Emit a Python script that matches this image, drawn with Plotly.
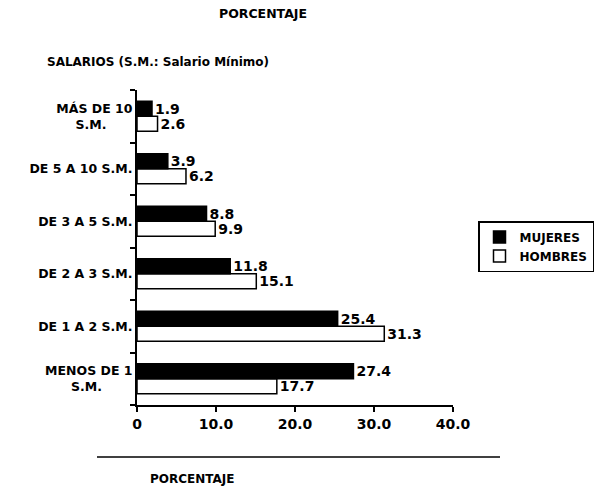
import plotly.graph_objects as go

NB = "\u00a0"

# Wage brackets, bottom to top (second line padded so it sits centred)
categorias = [
    "MENOS DE 1<br>S.M." + NB * 7,
    "DE 1 A 2 S.M.",
    "DE 2 A 3 S.M.",
    "DE 3 A 5 S.M.",
    "DE 5 A 10 S.M.",
    "MÁS DE 10<br>S.M." + NB * 6,
]
mujeres = [27.4, 25.4, 11.8, 8.8, 3.9, 1.9]
hombres = [17.7, 31.3, 15.1, 9.9, 6.2, 2.6]

x_ticks = [0, 10, 20, 30, 40]
x_ticktext = ["0", "10.0", "20.0", "30.0", "40.0"]

FONT = "DejaVu Sans"

fig = go.Figure()
fig.add_trace(go.Bar(
    y=categorias, x=hombres, orientation="h", name="HOMBRES",
    marker=dict(color="white", line=dict(color="black", width=1.5)),
    texttemplate="%{x:.1f}", textposition="outside", cliponaxis=False,
    constraintext="none",
    textfont=dict(family=FONT, size=14, color="black", weight="bold"),
    legendrank=2,
))
fig.add_trace(go.Bar(
    y=categorias, x=mujeres, orientation="h", name="MUJERES",
    marker=dict(color="black", line=dict(color="black", width=1.5)),
    texttemplate="%{x:.1f}", textposition="outside", cliponaxis=False,
    constraintext="none",
    textfont=dict(family=FONT, size=14, color="black", weight="bold"),
    legendrank=1,
))

L, R, T, B = 137, 142, 90, 81
W, H = 595, 486
pw, ph = W - L - R, H - T - B


def px(x):
    return (x - L) / pw


def py(y):
    return (H - B - y) / ph


fig.update_layout(
    width=W, height=H,
    margin=dict(l=L, r=R, t=T, b=B, autoexpand=False),
    paper_bgcolor="white", plot_bgcolor="white",
    barmode="group", bargap=0.43, bargroupgap=0,
    font=dict(family=FONT, color="black"),
    showlegend=True,
    legend=dict(
        x=px(478), y=py(221), xanchor="left", yanchor="top",
        bordercolor="black", borderwidth=1.5, bgcolor="white",
        font=dict(family=FONT, size=12, color="black", weight="bold"),
        itemwidth=30, tracegroupgap=0,
    ),
    xaxis=dict(
        range=[0, 40], tickvals=x_ticks, ticktext=x_ticktext,
        showgrid=False, zeroline=False,
        showline=True, linecolor="black", linewidth=1.5,
        ticks="outside", ticklen=5, tickwidth=1.5, tickcolor="black",
        tickfont=dict(family=FONT, size=14, color="black", weight="bold"),
    ),
    yaxis=dict(
        type="category", categoryorder="array", categoryarray=categorias,
        showgrid=False, zeroline=False,
        showline=True, linecolor="black", linewidth=2,
        ticks="outside", ticklen=5, tickwidth=1.5, tickcolor="black",
        tickson="boundaries",
        tickfont=dict(family=FONT, size=12.5, color="black", weight="bold"),
    ),
    annotations=[
        dict(text="PORCENTAJE", xref="paper", yref="paper",
             x=px(263), y=py(14), xanchor="center", yanchor="middle",
             showarrow=False,
             font=dict(family=FONT, size=12.5, color="black", weight="bold")),
        dict(text="SALARIOS (S.M.: Salario Mínimo)", xref="paper", yref="paper",
             x=px(45), y=py(62), xanchor="left", yanchor="middle",
             showarrow=False,
             font=dict(family=FONT, size=12, color="black", weight="bold")),
        dict(text="PORCENTAJE", xref="paper", yref="paper",
             x=px(148), y=py(479), xanchor="left", yanchor="middle",
             showarrow=False,
             font=dict(family=FONT, size=12, color="black", weight="bold")),
    ],
    shapes=[
        dict(type="line", xref="paper", yref="paper",
             x0=px(97), x1=px(500), y0=py(457), y1=py(457),
             line=dict(color="black", width=1.5)),
    ],
)

fig.write_html("out.html")
